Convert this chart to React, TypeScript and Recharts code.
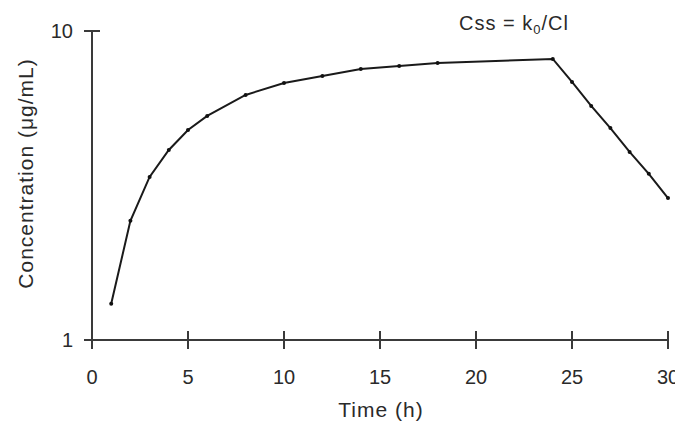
import React from 'react';
import { LineChart, Line, XAxis, YAxis, Label } from 'recharts';

const times = [1, 2, 3, 4, 5, 6, 8, 10, 12, 14, 16, 18, 24, 25, 26, 27, 28, 29, 30];
const concentrations = [1.31, 2.43, 3.37, 4.12, 4.78, 5.31, 6.21, 6.79, 7.15, 7.54, 7.71, 7.88, 8.12, 6.84, 5.72, 4.85, 4.06, 3.45, 2.88];
const xTicks = [0, 5, 10, 15, 20, 25, 30];
const yTicks = [1, 10];

const data = times.map((t, i) => ({ t, c: concentrations[i] }));

const FONT = '"Liberation Sans", Arial, Helvetica, sans-serif';
const INK = '#2a2a2a';
const AXIS = '#3a3a3a';

const XTick = (props: any) => {
  const { x, y, payload } = props;
  return (
    <g>
      <line x1={x} x2={x} y1={y - 9} y2={y + 9} stroke={AXIS} strokeWidth={2} />
      <text x={x} y={y + 37} textAnchor="middle" dominantBaseline="central" fontFamily={FONT} fontSize={20} fill={INK}>
        {payload.value}
      </text>
    </g>
  );
};

const YTick = (props: any) => {
  const { x, y, payload } = props;
  return (
    <g>
      <line x1={x - 8} x2={x + 8} y1={y} y2={y} stroke={AXIS} strokeWidth={2} />
      <text x={x - 19} y={y} textAnchor="end" dominantBaseline="central" fontFamily={FONT} fontSize={20} fill={INK}>
        {payload.value}
      </text>
    </g>
  );
};

const XLabel = (props: any) => {
  const vb = props.viewBox || {};
  const cx = vb.x + vb.width / 2 + 1;
  return (
    <text x={cx} y={409} textAnchor="middle" dominantBaseline="central" fontFamily={FONT} fontSize={21} letterSpacing={1} fill={INK}>
      Time (h)
    </text>
  );
};

const YLabel = (props: any) => {
  const vb = props.viewBox || {};
  const cy = vb.y + vb.height / 2 - 12;
  return (
    <text x={25} y={cy} transform={`rotate(-90 25 ${cy})`} textAnchor="middle" dominantBaseline="central" fontFamily={FONT} fontSize={21} letterSpacing={1} fill={INK}>
      Concentration (μg/mL)
    </text>
  );
};

export default function App() {
  return (
    <div style={{ position: 'absolute', left: 0, top: 0, width: 675, height: 423, background: '#fff' }}>
      <LineChart width={675} height={423} data={data} margin={{ top: 31, right: 7, bottom: 0, left: 0 }}>
        <XAxis
          dataKey="t"
          type="number"
          domain={[0, 30]}
          ticks={xTicks}
          height={83}
          tickSize={0}
          tickMargin={0}
          tickLine={false}
          tick={XTick}
          axisLine={{ stroke: AXIS, strokeWidth: 2 }}
          interval={0}
        >
          <Label content={XLabel} />
        </XAxis>
        <YAxis
          dataKey="c"
          scale="log"
          domain={[1, 10]}
          ticks={yTicks}
          width={92}
          tickSize={0}
          tickMargin={0}
          tickLine={false}
          tick={YTick}
          axisLine={{ stroke: AXIS, strokeWidth: 2 }}
          interval={0}
          allowDataOverflow
        >
          <Label content={YLabel} />
        </YAxis>
        <Line
          dataKey="c"
          type="linear"
          stroke="#1a1a1a"
          strokeWidth={2}
          dot={{ r: 2, fill: '#111', stroke: '#111', strokeWidth: 0 }}
          isAnimationActive={false}
        />
      </LineChart>
      <div
        style={{
          position: 'absolute',
          left: 459,
          top: 11,
          fontFamily: FONT,
          fontSize: 20,
          letterSpacing: 1,
          color: INK,
          whiteSpace: 'nowrap',
          lineHeight: '24px',
        }}
      >
        Css = k<sub style={{ fontSize: 13, verticalAlign: '-4px', lineHeight: 0 }}>0</sub>/Cl
      </div>
    </div>
  );
}
